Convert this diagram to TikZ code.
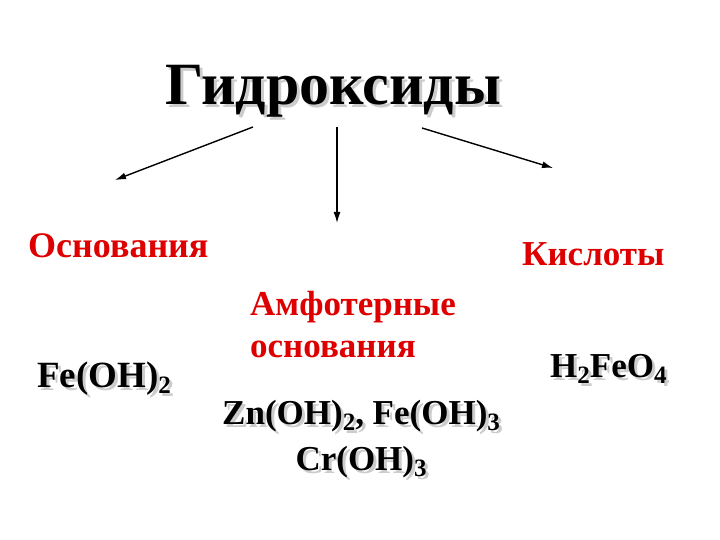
\documentclass[tikz,border=0pt]{standalone}
\usepackage{fontspec}
\setmainfont{Liberation Serif}
\usepackage{tikz}
\usetikzlibrary{arrows,arrows.meta}
\usetikzlibrary{positioning}
\definecolor{labelred}{RGB}{222,0,0}
\newcommand{\shadowtext}[2][gray!55]{\makebox[0pt][l]{\hspace{3pt}\raisebox{-3pt}{\color{#1}#2}}#2}
\newcommand{\idx}[1]{\raisebox{-6pt}{\fontsize{25}{25}\selectfont #1}}
\tikzset{
    heading/.style={
           anchor=base west, inner sep=0pt,
           font=\bfseries\fontsize{60}{66}\selectfont},
    group/.style={
           anchor=base west, inner sep=0pt, text=labelred,
           font=\bfseries\fontsize{35}{42}\selectfont},
    formula/.style={
           anchor=base west, inner sep=0pt,
           font=\bfseries\fontsize{35}{46}\selectfont},
    branch/.style={-{Latex[length=11pt,width=7pt]}, line width=1.4pt},
}

\begin{document}
\begin{tikzpicture}[x=1pt,y=-1pt]
 \useasboundingbox (0,0) rectangle (720,540);

 \node[heading] (TITLE) at (165,105) {\shadowtext[gray!40]{Гидроксиды}};

 \node[group, font=\bfseries\fontsize{36}{42}\selectfont] (BASES) at (28,257) {Основания};

 \node[group] (AMPHOTERIC) at (250,315)
 {\begin{tabular}[t]{@{}l@{}}
  Амфотерные\\
  основания
 \end{tabular}};

 \node[group] (ACIDS) at (522,265) {Кислоты};

 \node[formula, font=\bfseries\fontsize{37}{46}\selectfont] (FEOHTWO) at (37,387)
 {\shadowtext[gray!40]{Fe(OH)\idx{2}}};

 \node[formula] (AMPHOFORMULAS) at (222,424)
 {\begin{tabular}[t]{@{}c@{}}
  \shadowtext[gray!40]{Zn(OH)\idx{2}, Fe(OH)\idx{3}}\\
  \shadowtext[gray!40]{Cr(OH)\idx{3}}
 \end{tabular}};

 \node[formula] (FERRICACID) at (550,377)
 {\shadowtext[gray!40]{H\idx{2}FeO\idx{4}}};

 \coordinate (LEFTSTART) at (253,127);
 \coordinate (LEFTEND) at (115,180);
 \coordinate (MIDSTART) at (337,127);
 \coordinate (MIDEND) at (337,223);
 \coordinate (RIGHTSTART) at (422,128);
 \coordinate (RIGHTEND) at (553,168);

 \path 
 (LEFTSTART) edge[branch] (LEFTEND)
 (MIDSTART) edge[branch] (MIDEND)
 (RIGHTSTART) edge[branch] (RIGHTEND);

\end{tikzpicture}
\end{document}
